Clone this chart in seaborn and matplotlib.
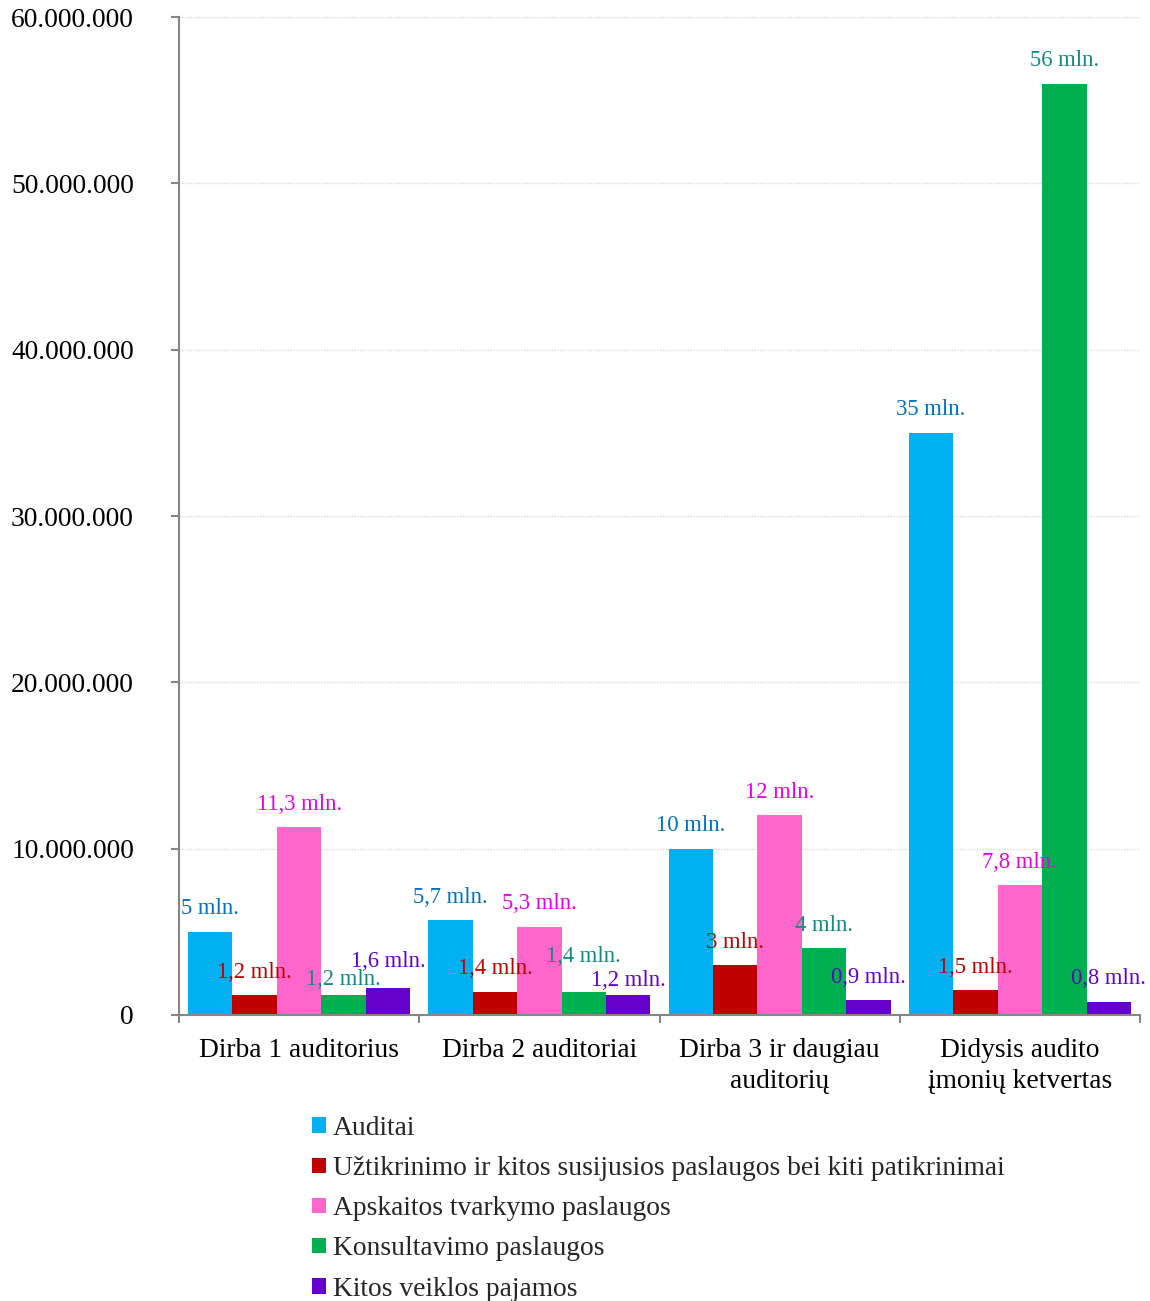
import matplotlib
matplotlib.use("Agg")
import matplotlib.pyplot as plt
from matplotlib.patches import Patch
from matplotlib.ticker import FuncFormatter, FixedLocator
import seaborn as sns
import pandas as pd

# Revenue by auditor-firm size group, EUR
categories = [
    "Dirba 1 auditorius",
    "Dirba 2 auditoriai",
    "Dirba 3 ir daugiau\nauditorių",
    "Didysis audito\nįmonių ketvertas",
]
series = [
    "Auditai",
    "Užtikrinimo ir kitos susijusios paslaugos bei kiti patikrinimai",
    "Apskaitos tvarkymo paslaugos",
    "Konsultavimo paslaugos",
    "Kitos veiklos pajamos",
]
auditai = [5.0, 5.7, 10.0, 35.0]
uztikrinimo = [1.2, 1.4, 3.0, 1.5]
apskaitos = [11.3, 5.3, 12.0, 7.8]
konsultavimo = [1.2, 1.4, 4.0, 56.0]
kitos = [1.6, 1.2, 0.9, 0.8]
values_mln = [auditai, uztikrinimo, apskaitos, konsultavimo, kitos]

bar_colors = ["#00B0F0", "#C00000", "#FF66CC", "#00B050", "#6600CC"]
label_colors = ["#0070C0", "#C00000", "#E600E6", "#138A80", "#6600CC"]

rows = []
for s, vals in zip(series, values_mln):
    for c, v in zip(categories, vals):
        rows.append({"grupe": c, "serija": s, "mln": v, "eur": v * 1_000_000})
df = pd.DataFrame(rows)

sns.set_theme(style="white")
plt.rcParams["font.family"] = ["Liberation Serif", "DejaVu Serif"]

DPI = 100
fig = plt.figure(figsize=(11.5, 13.01), dpi=DPI)
ax = fig.add_axes([179 / 1150, 1 - 1015 / 1301, (1140 - 179) / 1150, (1015 - 17) / 1301])

sns.barplot(
    data=df, x="grupe", y="eur", hue="serija",
    order=categories, hue_order=series, palette=bar_colors, saturation=1,
    width=0.925, dodge=True, errorbar=None, linewidth=0,
    legend=False, ax=ax,
)

ax.set_xlim(-0.5, len(categories) - 0.5)
ax.set_ylim(0, 60_000_000)
ax.set_xlabel("")
ax.set_ylabel("")

# value labels above bars (a few nudged to avoid overlaps)
px = 72 / DPI
nudge = {(3, 0): 16, (4, 0): 27, (3, 1): 35, (4, 1): 15}
for si, cont in enumerate(ax.containers):
    for ci, bar in enumerate(cont):
        v = values_mln[si][ci]
        txt = (f"{v:g}".replace(".", ",")) + " mln."
        off = nudge.get((si, ci), 23)
        ax.annotate(
            txt,
            xy=(bar.get_x() + bar.get_width() / 2, bar.get_height()),
            xytext=(0, off * px), textcoords="offset points",
            ha="center", va="center", fontsize=16.3, color=label_colors[si],
            annotation_clip=False,
        )

# axes styling
for side in ("top", "right"):
    ax.spines[side].set_visible(False)
for side in ("left", "bottom"):
    ax.spines[side].set_color("#868686")
    ax.spines[side].set_linewidth(1.5)

ax.yaxis.set_major_locator(FixedLocator([i * 10_000_000 for i in range(7)]))
ax.yaxis.set_major_formatter(FuncFormatter(lambda v, _: f"{int(v):,}".replace(",", ".")))
ax.grid(axis="y", color="#D9D9D9", linestyle=(0, (1, 1)), linewidth=1.0)
ax.set_axisbelow(True)

ax.tick_params(axis="y", which="major", left=True, length=8 * px, width=1.5,
               color="#868686", pad=37 * px, labelsize=19.8, labelcolor="black")
ax.set_xticks(range(len(categories)))
ax.set_xticklabels(categories, fontsize=19.8, color="black", linespacing=1.3)
ax.tick_params(axis="x", which="major", bottom=False, length=0, pad=23 * px)
ax.set_xticks([i - 0.5 for i in range(len(categories) + 1)], minor=True)
ax.tick_params(axis="x", which="minor", bottom=True, length=8 * px, width=1.5,
               color="#868686")

handles = [Patch(facecolor=c, edgecolor="none") for c in bar_colors]
fig.legend(
    handles, series, loc="upper left", bbox_to_anchor=(312 / 1150, 1 - 1116 / 1301),
    frameon=False, fontsize=19.8, handlelength=0.5, handleheight=0.5,
    handletextpad=0.27, labelspacing=0.55, borderaxespad=0, borderpad=0,
)

fig.savefig("out.png", dpi=DPI, facecolor="white")
